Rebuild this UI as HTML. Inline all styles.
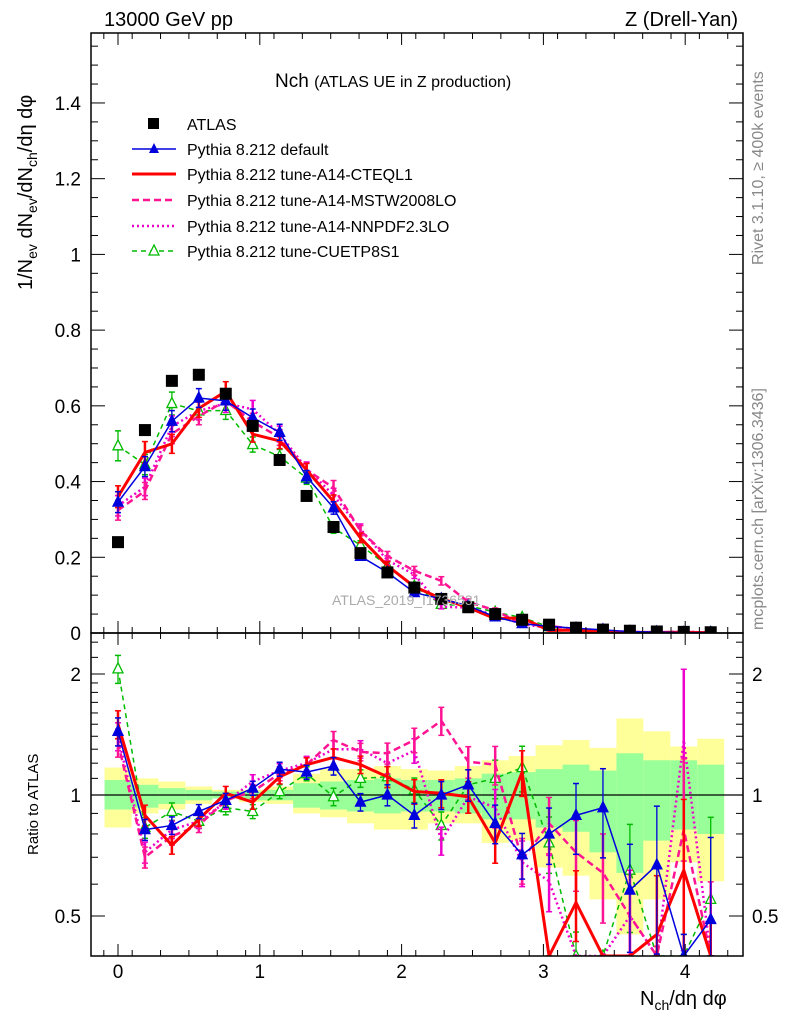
<!DOCTYPE html>
<html><head><meta charset="utf-8"><style>
body{margin:0;background:#fff}
svg{display:block;font-family:"Liberation Sans",sans-serif}
</style></head><body>
<svg id="c" width="786" height="1024" viewBox="0 0 786 1024"></svg>
<script>
// ---- data ----
const xVals=[0,0.19,0.38,0.57,0.76,0.95,1.14,1.33,1.52,1.71,1.9,2.09,2.28,2.47,2.66,2.85,3.04,3.23,3.42,3.61,3.8,3.99,4.18];
const atlas=[0.24,0.536,0.666,0.682,0.632,0.547,0.457,0.362,0.28,0.211,0.16,0.12,0.09,0.068,0.05,0.035,0.022,0.014,0.009,0.006,0.004,0.003,0.002];
const rDefault=[1.44,0.82,0.84,0.91,0.97,1.04,1.16,1.14,1.18,0.96,1.0,0.89,1.0,1.06,0.85,0.71,0.8,0.89,0.93,0.58,0.67,0.3,0.49];
const rCTEQ=[1.5,0.89,0.75,0.87,1.01,0.96,1.11,1.19,1.24,1.19,1.11,1.02,1.01,0.99,0.76,1.14,0.3,0.54,0.3,0.3,0.45,0.65,0.3];
const rMSTW=[1.35,0.7,0.79,0.84,0.97,1.02,1.13,1.19,1.37,1.28,1.27,1.37,1.53,1.21,1.19,0.69,0.85,0.72,0.64,0.5,0.3,0.82,0.38];
const rNNPDF=[1.4,0.72,0.82,0.86,0.96,1.08,1.15,1.2,1.3,1.3,1.2,1.29,0.77,0.99,0.93,0.68,0.61,0.3,0.3,0.5,0.3,1.37,0.3];
const rCUETP=[2.06,0.83,0.91,0.86,0.93,0.91,1.02,1.13,0.99,1.1,1.11,1.03,0.84,1.06,1.1,1.17,0.76,0.38,0.3,0.65,0.3,0.3,0.55];
const yelHi=[1.17,1.10,1.08,1.05,1.03,1.03,1.05,1.13,1.16,1.16,1.18,1.16,1.15,1.18,1.22,1.25,1.33,1.37,1.31,1.55,1.44,1.32,1.38];
const yelLo=[0.83,0.90,0.92,0.95,0.98,0.96,0.95,0.90,0.88,0.85,0.82,0.82,0.85,0.85,0.76,0.77,0.66,0.63,0.55,0.45,0.55,0.68,0.61];
const grnHi=[1.09,1.06,1.04,1.03,1.02,1.02,1.03,1.07,1.08,1.09,1.10,1.09,1.09,1.1,1.13,1.14,1.16,1.19,1.15,1.27,1.22,1.22,1.19];
const grnLo=[0.92,0.93,0.95,0.97,0.98,0.97,0.97,0.93,0.92,0.91,0.90,0.91,0.91,0.9,0.87,0.87,0.83,0.81,0.72,0.64,0.77,0.82,0.8];
const mcRelErr=[0.08,0.06,0.05,0.04,0.04,0.04,0.04,0.04,0.05,0.05,0.06,0.07,0.08,0.09,0.11,0.13,0.16,0.2,0.25,0.3,0.4,0.5,0.6];
const xTicks=[0,1,2,3,4];
const yTicks=[0,0.2,0.4,0.6,0.8,1,1.2,1.4];
const rTicks=[0.5,1,2];
// ---- geometry ----
const L=91,R=743,MT=33,MB=633,RB=956;
const sx=v=>118+v*141.8;
const sy=v=>633-v*378.6;
const sr=r=>Math.min(RB,Math.max(MB,795-Math.log2(r)*121));
const svg=document.getElementById('c');
const NS='http://www.w3.org/2000/svg';
function mk(tag,at,parent){const e=document.createElementNS(NS,tag);for(const k in at)e.setAttribute(k,at[k]);(parent||svg).appendChild(e);return e;}
function txt(s,at,parent){const e=mk('text',at,parent);e.textContent=s;return e;}
const defs=mk('defs',{});
const c1=mk('clipPath',{id:'cm'},defs);mk('rect',{x:L,y:MT,width:R-L,height:MB-MT},c1);
const c2=mk('clipPath',{id:'cr'},defs);mk('rect',{x:L,y:MB,width:R-L,height:RB-MB},c2);
const gBand=mk('g',{'clip-path':'url(#cr)'});


xVals.forEach((x,i)=>{
  const x0=sx(x-0.095),x1=sx(x+0.095);
  const y=mk('rect',{x:x0,y:sr(yelHi[i]),width:x1-x0,height:sr(yelLo[i])-sr(yelHi[i]),fill:'#ffff99'},gBand);
  
  
  const g=mk('rect',{x:x0,y:sr(grnHi[i]),width:x1-x0,height:sr(grnLo[i])-sr(grnHi[i]),fill:'#99ff99'},gBand);
  
  
});
mk('line',{x1:L,x2:R,y1:795,y2:795,stroke:'#000','stroke-width':1.2});
const series=[
 {name:'default',r:rDefault,c:'#0000dd',w:1.5,dash:'',mark:'tri'},
 {name:'cteql1',r:rCTEQ,c:'#ff0000',w:3,dash:'',mark:''},
 {name:'mstw2008lo',r:rMSTW,c:'#ff1493',w:2.5,dash:'7,4',mark:''},
 {name:'nnpdf23lo',r:rNNPDF,c:'#ee00cc',w:2.5,dash:'2,3',mark:''},
 {name:'cuetp8s1',r:rCUETP,c:'#00bb00',w:1.5,dash:'5,4',mark:'otri'}
];
function tri(g,x,y,c,open){const p=mk('polygon',{points:`${x},${y-6} ${x-5},${y+4} ${x+5},${y+4}`,fill:open?'#fff':c,stroke:c,'stroke-width':1.3},g);}
series.slice().reverse().forEach(s=>{
  ['main','ratio'].forEach(panel=>{
    const g=mk('g',{'clip-path':panel==='main'?'url(#cm)':'url(#cr)'});
    
    
    const pts=xVals.map((x,i)=>{
      const v=panel==='main'?atlas[i]*s.r[i]:s.r[i];
      return [sx(x),panel==='main'?sy(v):sr(v),v];
    });
    mk('polyline',{points:pts.map(p=>p[0]+','+p[1]).join(' '),fill:'none',stroke:s.c,'stroke-width':s.w,'stroke-dasharray':s.dash},g);
    pts.forEach((p,i)=>{
      const v=p[2],e=v*mcRelErr[i];
      const ya=panel==='main'?sy(v+e):sr(v+e),yb=panel==='main'?sy(v-e):sr(Math.max(0.01,v-e));
      mk('line',{x1:p[0],x2:p[0],y1:ya,y2:yb,stroke:s.c,'stroke-width':s.w>2?2.5:1.3},g);
      mk('line',{x1:p[0]-3,x2:p[0]+3,y1:ya,y2:ya,stroke:s.c,'stroke-width':1.5},g);
      mk('line',{x1:p[0]-3,x2:p[0]+3,y1:yb,y2:yb,stroke:s.c,'stroke-width':1.5},g);
      if(s.mark==='tri')tri(g,p[0],p[1],s.c,false);
      if(s.mark==='otri')tri(g,p[0],p[1],s.c,true);
    });
  });
});
const gd=mk('g',{'clip-path':'url(#cm)'});


xVals.forEach((x,i)=>{const r=mk('rect',{x:sx(x)-6,y:sy(atlas[i])-6,width:12,height:12,fill:'#000'},gd);
  });
mk('rect',{x:L,y:MT,width:R-L,height:MB-MT,fill:'none',stroke:'#000','stroke-width':1.5});
mk('rect',{x:L,y:MB,width:R-L,height:RB-MB,fill:'none',stroke:'#000','stroke-width':1.5});
for(let v=-0.1;v<=4.4;v+=0.2){const x=sx(Math.round(v*10)/10);if(x<L||x>R)continue;
  [[MT,1],[MB,-1],[MB,1],[RB,-1]].forEach(([y,d])=>mk('line',{x1:x,x2:x,y1:y,y2:y+d*6,stroke:'#000'}));}
xTicks.forEach(v=>{const x=sx(v);
  [[MT,1],[MB,-1],[MB,1],[RB,-1]].forEach(([y,d])=>mk('line',{x1:x,x2:x,y1:y,y2:y+d*12,stroke:'#000'}));
  const t=txt(v,{x:x,y:978,'font-size':19,'text-anchor':'middle'});});
for(let v=0;v<=1.56;v+=0.05){const y=sy(v);const big=Math.abs(v*5-Math.round(v*5))<1e-6;
  mk('line',{x1:L,x2:L+(big?14:7),y1:y,y2:y,stroke:'#000'});mk('line',{x1:R,x2:R-(big?14:7),y1:y,y2:y,stroke:'#000'});}
yTicks.forEach(v=>{const t=txt(v,{x:81,y:sy(v)+7,'font-size':19,'text-anchor':'end'});});
[0.5,0.6,0.7,0.8,0.9,1,1.1,1.2,1.3,1.4,1.5,1.6,1.7,1.8,1.9,2,2.2,2.4].forEach(v=>{const y=sr(v);if(y<=MB||y>=RB)return;const big=rTicks.includes(v);
  mk('line',{x1:L,x2:L+(big?14:7),y1:y,y2:y,stroke:'#000'});mk('line',{x1:R,x2:R-(big?14:7),y1:y,y2:y,stroke:'#000'});});
rTicks.forEach(v=>{const y=sr(v)+7;
  const a=txt(v,{x:81,y:y,'font-size':19,'text-anchor':'end'});
  const b=txt(v,{x:752,y:y,'font-size':19});});
</script>
<svg width="786" height="1024" style="position:absolute;left:0;top:0;font-family:'Liberation Sans',sans-serif">
<text x="104" y="26" font-size="20">13000 GeV pp</text>
<text x="738" y="26" font-size="20" text-anchor="end">Z (Drell-Yan)</text>
<text x="275" y="87" font-size="19">Nch <tspan font-size="16">(ATLAS UE in Z production)</tspan></text>
<text x="332" y="605" font-size="14" fill="#aaa">ATLAS_2019_I1736531</text>
<text transform="translate(763,265) rotate(-90)" font-size="16" fill="#888">Rivet 3.1.10, ≥ 400k events</text>
<text transform="translate(763,630) rotate(-90)" font-size="16" fill="#888">mcplots.cern.ch [arXiv:1306.3436]</text>
<text transform="translate(32,290) rotate(-90)" font-size="20">1/N<tspan font-size="14" dy="5">ev</tspan><tspan dy="-5"> dN</tspan><tspan font-size="14" dy="5">ev</tspan><tspan dy="-5">/dN</tspan><tspan font-size="14" dy="5">ch</tspan><tspan dy="-5">/dη dφ</tspan></text>
<text transform="translate(38,855) rotate(-90)" font-size="15">Ratio to ATLAS</text>
<text x="640" y="1005" font-size="20">N<tspan font-size="14" dy="5">ch</tspan><tspan dy="-5">/dη dφ</tspan></text>
<g font-size="16">
<rect x="148" y="118" width="11" height="11" fill="#000"/>
<text x="187" y="130">ATLAS</text>
<line x1="132" x2="176" y1="149" y2="149" stroke="#0000dd" stroke-width="1.5"/><polygon points="154,143 149,153 159,153" fill="#0000dd"/>
<text x="187" y="155">Pythia 8.212 default</text>
<line x1="132" x2="176" y1="174" y2="174" stroke="#ff0000" stroke-width="3"/>
<text x="187" y="180">Pythia 8.212 tune-A14-CTEQL1</text>
<line x1="132" x2="176" y1="200" y2="200" stroke="#ff1493" stroke-width="2.5" stroke-dasharray="7,4"/>
<text x="187" y="206">Pythia 8.212 tune-A14-MSTW2008LO</text>
<line x1="132" x2="176" y1="226" y2="226" stroke="#ee00cc" stroke-width="2.5" stroke-dasharray="2,3"/>
<text x="187" y="232">Pythia 8.212 tune-A14-NNPDF2.3LO</text>
<line x1="132" x2="176" y1="251" y2="251" stroke="#00bb00" stroke-width="1.5" stroke-dasharray="5,4"/><polygon points="154,245 149,255 159,255" fill="#fff" stroke="#00bb00" stroke-width="1.3"/>
<text x="187" y="257">Pythia 8.212 tune-CUETP8S1</text>
</g>
</svg>
</body></html>
